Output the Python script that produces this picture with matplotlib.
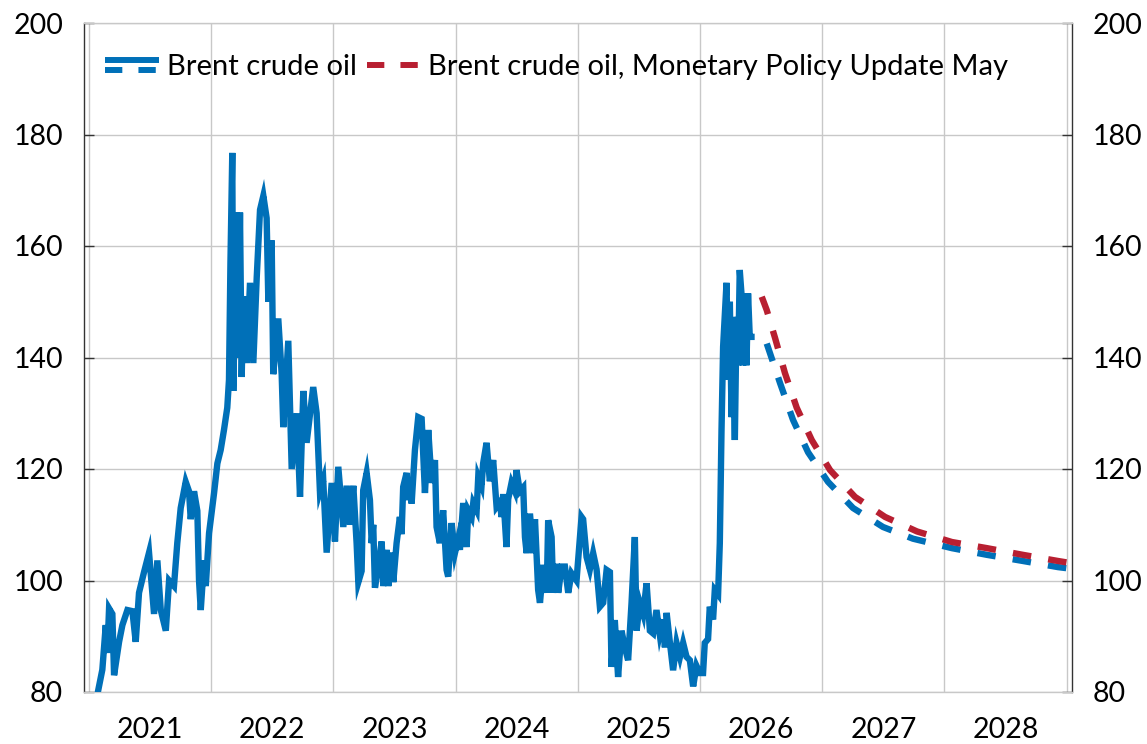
import matplotlib
matplotlib.use("Agg")
import matplotlib.pyplot as plt
from matplotlib.lines import Line2D
from matplotlib.legend_handler import HandlerBase

# Brent crude oil, daily-ish history (decimal year, value)
t_hist = [
    2021.070, 2021.111, 2021.139, 2021.152, 2021.166, 2021.193, 2021.207, 2021.248,
    2021.275, 2021.316, 2021.357, 2021.384, 2021.411, 2021.452, 2021.493, 2021.534,
    2021.561, 2021.589, 2021.630, 2021.657, 2021.697, 2021.724, 2021.752, 2021.793,
    2021.820, 2021.834, 2021.861, 2021.888, 2021.902, 2021.916, 2021.943, 2021.957,
    2021.984, 2022.025, 2022.052, 2022.079, 2022.106, 2022.133, 2022.147, 2022.159,
    2022.174, 2022.182, 2022.196, 2022.210, 2022.223, 2022.237, 2022.251, 2022.264,
    2022.292, 2022.319, 2022.346, 2022.374, 2022.401, 2022.428, 2022.455, 2022.469,
    2022.496, 2022.509, 2022.550, 2022.578, 2022.591, 2022.632, 2022.660, 2022.701,
    2022.728, 2022.755, 2022.782, 2022.836, 2022.864, 2022.891, 2022.918, 2022.946,
    2022.987, 2023.014, 2023.041, 2023.082, 2023.110, 2023.137, 2023.164, 2023.191,
    2023.205, 2023.232, 2023.245, 2023.273, 2023.300, 2023.314, 2023.327, 2023.341,
    2023.368, 2023.396, 2023.409, 2023.437, 2023.450, 2023.477, 2023.491, 2023.518,
    2023.545, 2023.559, 2023.572, 2023.600, 2023.613, 2023.627, 2023.641, 2023.668,
    2023.695, 2023.723, 2023.750, 2023.777, 2023.805, 2023.832, 2023.845, 2023.872,
    2023.899, 2023.927, 2023.940, 2023.968, 2023.995, 2024.022, 2024.036, 2024.063,
    2024.091, 2024.104, 2024.132, 2024.145, 2024.173, 2024.186, 2024.213, 2024.226,
    2024.254, 2024.281, 2024.308, 2024.336, 2024.363, 2024.377, 2024.390, 2024.417,
    2024.431, 2024.458, 2024.486, 2024.499, 2024.526, 2024.554, 2024.568, 2024.582,
    2024.609, 2024.636, 2024.650, 2024.676, 2024.691, 2024.718, 2024.746, 2024.758,
    2024.786, 2024.799, 2024.827, 2024.840, 2024.868, 2024.895, 2024.922, 2024.949,
    2024.990, 2025.031, 2025.044, 2025.072, 2025.099, 2025.126, 2025.154, 2025.181,
    2025.208, 2025.236, 2025.263, 2025.276, 2025.303, 2025.330, 2025.358, 2025.385,
    2025.412, 2025.440, 2025.467, 2025.481, 2025.508, 2025.535, 2025.563, 2025.590,
    2025.617, 2025.644, 2025.671, 2025.699, 2025.713, 2025.727, 2025.754, 2025.780,
    2025.808, 2025.836, 2025.862, 2025.890, 2025.917, 2025.944, 2025.971, 2025.998,
    2026.025, 2026.039, 2026.066, 2026.080, 2026.107, 2026.121, 2026.148, 2026.162,
    2026.176, 2026.189, 2026.217, 2026.230, 2026.244, 2026.258, 2026.271, 2026.285,
    2026.299, 2026.312, 2026.325, 2026.339, 2026.352, 2026.366, 2026.380, 2026.393,
    2026.407, 2026.421,
]
brent_hist = [
    79.5, 84.0, 92.0, 87.0, 95.0, 94.0, 83.0, 89.0,
    92.0, 94.7, 94.5, 89.0, 97.8, 101.5, 105.0, 94.0,
    103.6, 94.7, 91.0, 100.0, 99.0, 106.7, 113.0, 117.7,
    116.0, 111.0, 116.0, 112.5, 100.0, 94.7, 103.6, 99.0,
    108.5, 115.7, 121.0, 123.4, 127.0, 131.0, 136.0, 157.0,
    176.7, 134.0, 150.0, 166.0, 140.0, 166.0, 136.5, 151.0,
    139.0, 153.4, 139.0, 154.4, 166.5, 169.0, 165.0, 150.0,
    161.0, 137.0, 147.0, 137.0, 127.5, 143.0, 120.0, 130.0,
    115.0, 134.0, 124.7, 134.7, 130.0, 116.0, 118.0, 105.0,
    117.5, 107.0, 120.4, 109.6, 117.0, 110.0, 117.0, 106.7,
    99.7, 101.7, 116.2, 119.3, 114.4, 106.7, 110.0, 98.7,
    102.5, 107.0, 99.0, 105.5, 99.0, 105.0, 99.7, 106.7,
    111.4, 108.3, 116.8, 119.3, 114.4, 117.8, 113.8, 123.4,
    129.3, 129.0, 115.7, 127.0, 117.5, 121.6, 109.6, 106.7,
    112.6, 101.9, 100.7, 110.3, 104.9, 107.5, 105.5, 113.9,
    106.0, 112.6, 111.4, 113.9, 112.6, 118.6, 117.0, 121.0,
    124.7, 117.8, 121.6, 113.2, 114.0, 111.4, 115.5, 106.0,
    114.6, 117.5, 116.0, 119.8, 116.0, 116.7, 107.8, 104.9,
    112.0, 104.9, 111.0, 98.3, 96.0, 102.8, 97.8, 110.8,
    107.8, 97.8, 103.0, 97.8, 102.5, 102.5, 97.8, 101.3,
    100.0, 111.4, 111.0, 104.2, 102.0, 104.9, 102.0, 95.3,
    96.0, 101.9, 101.5, 84.5, 92.9, 82.7, 91.0, 88.0,
    85.7, 96.0, 107.8, 91.0, 96.0, 94.0, 99.5, 91.0,
    90.5, 94.7, 90.3, 93.0, 88.0, 94.2, 88.8, 83.9,
    88.8, 86.3, 88.8, 86.3, 85.7, 81.0, 84.7, 83.4,
    83.4, 88.8, 89.5, 95.3, 93.0, 98.3, 97.5, 106.7,
    127.0, 141.9, 153.4, 136.0, 150.0, 129.3, 139.5, 125.2,
    147.3, 138.6, 155.7, 151.5, 138.6, 151.5, 138.6, 151.5,
    143.7, 143.7,
]

# current path (blue dashed)
t_fcst = [2026.546, 2026.655, 2026.761, 2026.884, 2027.047, 2027.252, 2027.497,
          2027.742, 2028.061, 2028.348, 2028.642, 2028.929, 2029.040]
brent_fcst = [142.5, 135.4, 128.8, 123.0, 117.7, 113.0, 109.6,
              107.5, 105.8, 104.6, 103.5, 102.4, 102.1]

# Monetary Policy Update May path (red dashed)
t_mpu = [2026.505, 2026.546, 2026.614, 2026.695, 2026.791, 2026.914, 2027.064,
         2027.268, 2027.514, 2027.775, 2028.061, 2028.348, 2028.642, 2028.929, 2029.040]
brent_mpu = [150.9, 148.5, 143.5, 137.2, 131.0, 125.2, 119.8,
             115.0, 111.4, 108.8, 106.9, 105.8, 104.6, 103.5, 103.1]

years = [2021, 2022, 2023, 2024, 2025, 2026, 2027, 2028]
yticks = [80, 100, 120, 140, 160, 180, 200]

BLUE = "#0070B8"
RED = "#B81F31"
GRID = "#C8C8C8"
DASH = (2.9, 2.7)
LW = 4.6
FS = 20.5

plt.rcParams["font.family"] = ["Lato", "DejaVu Sans"]


class SolidOverDashed(HandlerBase):
    """Legend key: solid line above a dashed one, same colour."""
    def create_artists(self, legend, orig_handle, xdescent, ydescent,
                       width, height, fontsize, trans):
        yc = height / 2 - ydescent
        off = 3.6
        x = [-xdescent, width - xdescent]
        top = Line2D(x, [yc + off] * 2, color=BLUE, lw=4.3,
                     solid_capstyle="butt", transform=trans)
        bot = Line2D(x, [yc - off] * 2, color=BLUE, lw=4.3,
                     dashes=DASH, dash_capstyle="butt", transform=trans)
        return [top, bot]


fig = plt.figure(figsize=(11.47, 7.44), dpi=100)
ax = fig.add_axes([84 / 1147, 1 - 692 / 744, (1072 - 84) / 1147, (692 - 23) / 744])

ax.plot(t_hist, brent_hist, color=BLUE, lw=LW, solid_joinstyle="miter", zorder=3)
ax.plot(t_fcst, brent_fcst, color=BLUE, lw=LW, dashes=DASH,
        dash_capstyle="butt", zorder=3)
ax.plot(t_mpu, brent_mpu, color=RED, lw=LW, dashes=DASH,
        dash_capstyle="butt", zorder=4)

ax.set_xlim(2020.961, 2029.043)
ax.set_ylim(80, 200)

ax.set_xticks(years + [2029])
ax.set_xticklabels([])
ax.set_xticks([y + 0.5 for y in years], minor=True)
ax.set_xticklabels([str(y) for y in years], minor=True)
ax.tick_params(axis="x", which="both", length=0, labelsize=FS, pad=18)
ax.grid(axis="x", which="major", color=GRID, lw=1.0)

ax.set_yticks(yticks)
ax.grid(axis="y", color=GRID, lw=1.0)
ax.yaxis.set_ticks_position("both")
ax.tick_params(axis="y", direction="in", length=7, width=1, color="#333333",
               labelleft=True, labelright=True, labelsize=FS, pad=15)
ax.set_axisbelow(True)

for side in ["left", "right"]:
    ax.spines[side].set_color("#333333")
    ax.spines[side].set_linewidth(1)
for side in ["top", "bottom"]:
    ax.spines[side].set_color(GRID)
    ax.spines[side].set_linewidth(1.0)

h_blue = Line2D([], [], color=BLUE)
h_red = Line2D([], [], color=RED, lw=4.3, dashes=DASH, dash_capstyle="butt")
fig.legend([h_blue, h_red],
           ["Brent crude oil", "Brent crude oil, Monetary Policy Update May"],
           handler_map={h_blue: SolidOverDashed()},
           loc="center left", bbox_to_anchor=(105 / 1147, 1 - 67 / 744),
           ncol=2, frameon=False, fontsize=21, borderpad=0, borderaxespad=0,
           handlelength=1.86, handletextpad=0.25, columnspacing=0.35)

fig.savefig("out.png", dpi=100)
